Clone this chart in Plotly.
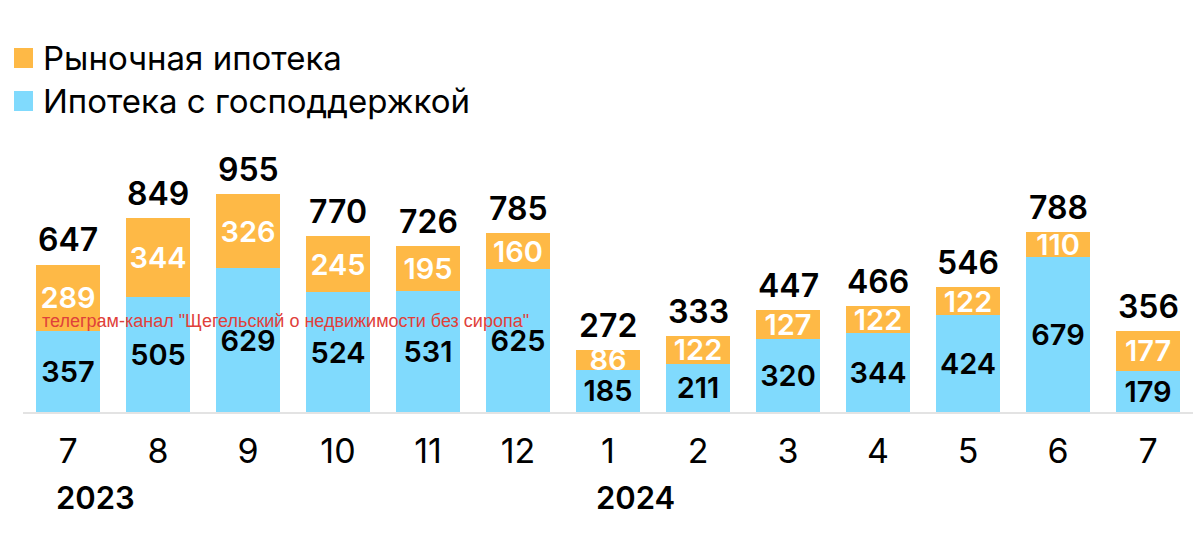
import plotly.graph_objects as go

months = ["7", "8", "9", "10", "11", "12", "1", "2", "3", "4", "5", "6", "7"]
year_labels = ["2023", "2024"]
year_positions = [0, 6]
gov_support = [357, 505, 629, 524, 531, 625, 185, 211, 320, 344, 424, 679, 179]
market = [289, 344, 326, 245, 195, 160, 86, 122, 127, 122, 122, 110, 177]
totals = [647, 849, 955, 770, 726, 785, 272, 333, 447, 466, 546, 788, 356]
series_names = ["Ипотека с господдержкой", "Рыночная ипотека"]

BLUE = "#80DAFD"
ORANGE = "#FEB946"
FONT = "Inter"

W, H = 1200, 554
L, R, T, B = 23, 7, 140, 142
PW, PH = W - L - R, H - T - B

def px_to_paper(xp, yp):
    return (xp - L) / PW, (H - B - yp) / PH

idx = list(range(len(months)))

fig = go.Figure()
fig.add_trace(go.Bar(
    x=idx, y=gov_support, name=series_names[0],
    marker=dict(color=BLUE, line=dict(width=0)),
    text=gov_support, textposition="inside", insidetextanchor="middle",
    textangle=0, constraintext="none",
    textfont=dict(family=FONT, size=29, color="#000000", weight=600),
    width=0.71, hoverinfo="skip", showlegend=False,
))
fig.add_trace(go.Bar(
    x=idx, y=market, name=series_names[1],
    marker=dict(color=ORANGE, line=dict(width=0)),
    text=market, textposition="inside", insidetextanchor="middle",
    textangle=0, constraintext="none",
    textfont=dict(family=FONT, size=29, color="#ffffff", weight=600),
    width=0.71, hoverinfo="skip", showlegend=False,
))

annotations = []
for i, t in zip(idx, totals):
    annotations.append(dict(
        x=i, y=t, xref="x", yref="y", text=str(t), showarrow=False,
        yanchor="bottom", yshift=3,
        font=dict(family=FONT, size=32, color="#000000", weight=600),
    ))
for yl, yp in zip(year_labels, year_positions):
    annotations.append(dict(
        x=yp, y=-0.316, xref="x", yref="paper", text=yl, showarrow=False,
        xanchor="left", yanchor="middle", xshift=-14,
        font=dict(family=FONT, size=31, color="#000000", weight=600),
    ))
wx, wy = px_to_paper(40, 321)
annotations.append(dict(
    x=wx, y=wy, xref="paper", yref="paper",
    text='телеграм-канал "Щегельский о недвижимости без сиропа"',
    showarrow=False, xanchor="left", yanchor="middle",
    font=dict(family="Liberation Sans", size=18, color="#E0403A"),
))

# legend drawn as squares + text
shapes = []
legend_items = [(series_names[1], ORANGE, 58), (series_names[0], BLUE, 101)]
for name, col, cy in legend_items:
    x0, y0 = px_to_paper(14, cy + 10)
    x1, y1 = px_to_paper(33, cy - 10)
    shapes.append(dict(type="rect", xref="paper", yref="paper",
                       x0=x0, x1=x1, y0=y0, y1=y1,
                       fillcolor=col, line=dict(width=0)))
    tx, ty = px_to_paper(41, cy)
    annotations.append(dict(
        x=tx, y=ty, xref="paper", yref="paper", text=name, showarrow=False,
        xanchor="left", yanchor="middle",
        font=dict(family=FONT, size=33, color="#000000", weight=400),
    ))

fig.update_layout(
    width=W, height=H,
    margin=dict(l=L, r=R, t=T, b=B, autoexpand=False),
    barmode="stack",
    paper_bgcolor="#ffffff", plot_bgcolor="#ffffff",
    uniformtext=dict(minsize=29, mode="show"),
    showlegend=False,
    xaxis=dict(
        tickmode="array", tickvals=idx, ticktext=months,
        range=[-0.5, len(months) - 0.5],
        showgrid=False, zeroline=False, showline=True,
        linecolor="#E3E3E3", linewidth=2, ticks="",
        ticklabelstandoff=8,
        tickfont=dict(family=FONT, size=34, color="#000000"),
    ),
    yaxis=dict(range=[0, PH / 0.2283], visible=False, showgrid=False, zeroline=False),
    annotations=annotations,
    shapes=shapes,
)

fig.write_html("out.html", config={"displayModeBar": False},
               post_script="document.body.style.margin='0px';")
